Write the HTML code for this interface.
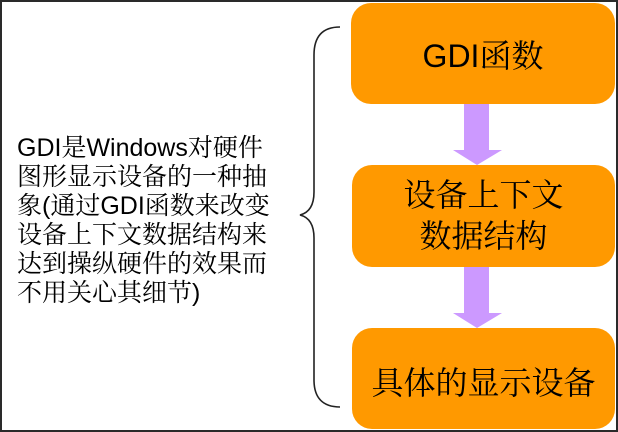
<!DOCTYPE html>
<html>
<head>
<meta charset="utf-8">
<style>
  html, body { margin:0; padding:0; }
  body { width:618px; height:432px; position:relative; overflow:hidden; background:#fff;
         font-family:"Liberation Sans","Noto Serif CJK SC",serif; color:#000; }
  .frame { position:absolute; left:0; top:0; width:614px; height:428px; border:2px solid #2a2a2a; }
  .box { position:absolute; background:#FF9900; border-radius:20px; display:flex;
         align-items:center; justify-content:center; text-align:center; font-size:32px; }
  .left { position:absolute; left:17px; top:134px; font-size:25px; line-height:29px; white-space:nowrap; }
</style>
</head>
<body>
<div class="frame"></div>

<div class="box" style="left:351px;top:3px;width:264px;height:101px;">GDI函数</div>
<div class="box" style="left:352px;top:165px;width:263px;height:102px;line-height:41px;">设备上下文<br>数据结构</div>
<div class="box" style="left:352px;top:328px;width:263px;height:101px;padding-top:4px;box-sizing:border-box;">具体的显示设备</div>

<svg width="618" height="432" style="position:absolute;left:0;top:0;" xmlns="http://www.w3.org/2000/svg">
  <polygon points="464,104 489,104 489,150 502,150 477,165 453,150 464,150" fill="#CC99FF"/>
  <polygon points="464,267 489,267 489,313 502,313 477,328 453,313 464,313" fill="#CC99FF"/>
  <path d="M340,27 C322,27 314,37 314,55 L314,192 C314,207 308,213 300,215 C308,217 314,223 314,238 L314,380 C314,397 322,407 340,407"
        fill="none" stroke="#222" stroke-width="1.6"/>
</svg>

<div class="left">GDI是Windows对硬件<br>图形显示设备的一种抽<br>象(通过GDI函数来改变<br>设备上下文数据结构来<br>达到操纵硬件的效果而<br>不用关心其细节)</div>
</body>
</html>
